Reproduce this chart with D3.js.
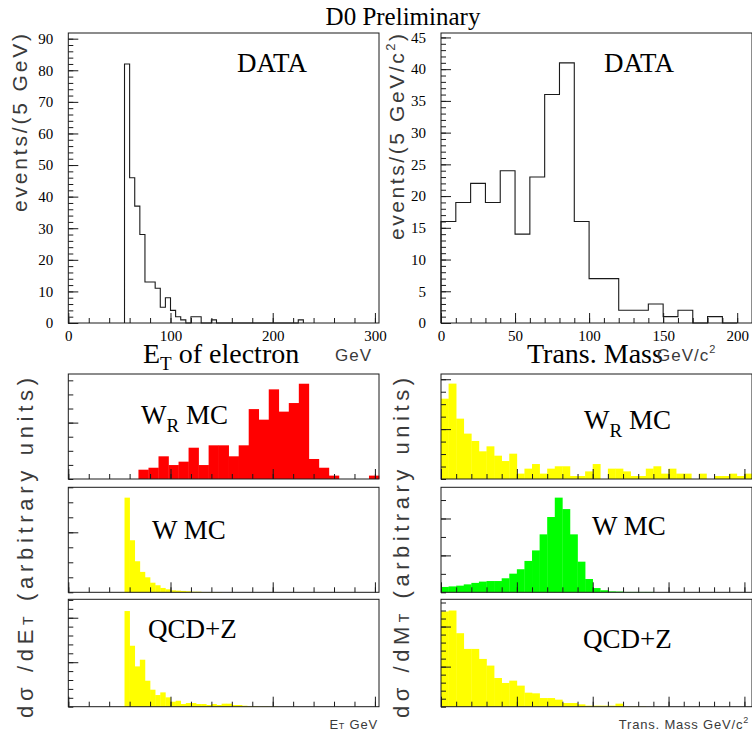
<!DOCTYPE html>
<html>
<head>
<meta charset="utf-8">
<script src="https://cdn.jsdelivr.net/npm/d3@7"></script>
<style>
  html, body { margin: 0; padding: 0; background: #fff; }
  svg { display: block; }
</style>
</head>
<body>
<svg id="chart" width="752" height="736"></svg>
<script>
// ---- Data -------------------------------------------------------------
// Electron E_T of the data sample, 5 GeV bins starting at 55 GeV
const etDataStart = 55, etDataWidth = 5;
const etData = [82, 46, 37, 28, 13, 13, 11, 5, 8, 4, 2, 1, 0, 2, 2, 0, 0, 1,
  0, 0, 0, 0, 0, 0, 0, 0, 0, 0, 0, 0, 0, 0, 0, 0, 1];

// Transverse mass of the data sample, 10 GeV/c^2 bins starting at 0
const mtDataStart = 0, mtDataWidth = 10;
const mtData = [16, 19, 22, 19, 24, 14, 23, 36, 41, 16, 7, 7, 2, 2, 3, 1, 2, 0, 1, 0];

// Monte Carlo shapes (arbitrary units)
const etAxisMax = 304;
const wrEtWidth = 304 / 31;          // W_R MC electron E_T bins
const wrEt = [0, 0, 0, 0, 0, 0, 0, 6.6, 8.0, 16.1, 9.9, 12.3, 22.2, 9.9, 23.9, 23.9,
  16.1, 23.9, 49.6, 42.1, 63.6, 47.8, 53.9, 67.6, 14.2, 8.0, 2.4, 0, 0, 0, 2.4];
const mcEtStart = 55, mcEtWidth = 5;
const wEt = [63.1, 34.7, 20.7, 13.6, 10, 6.4, 4.7, 2.9, 2, 1.3, 1.1, 0.9, 0.7, 0.4, 0.4,
  0.2, 0.2, 0.2, 0.2];
const qcdEt = [107.5, 68.5, 45.3, 52.8, 29.2, 19.1, 13.1, 16.1, 10.5, 5.6, 6.7, 3, 4.1,
  4.1, 3, 3, 1.9, 3, 1.9, 3.4, 3.4, 1.9, 1.9, 1.1, 0.6, 0.6, 0.4, 0.4, 0.3, 0.3];

const mtAxisMax = 205;
const mcMtStart = 0, mcMtWidth = 5;
const wrMt = [64.4, 76.5, 48.4, 36.4, 30.5, 22.2, 26.2, 18.7, 14.4, 20.3, 4.3, 8.3, 12,
  4.3, 8.3, 10.2, 10.2, 2.4, 2.4, 6.1, 12, 0, 8.3, 8.3, 6.1, 2.4, 2.4, 8.3, 10.2, 4.3,
  8.3, 4.3, 4.3, 0, 4.3, 0, 2.4, 2.4, 4.3, 2.4, 4.3];
const wMt = [2.9, 3.2, 3.6, 4.3, 5.1, 5.8, 6.1, 6.1, 7.6, 10.1, 12.5, 17, 22.7, 31.4,
  40.8, 51.3, 45.1, 31.4, 16.6, 7.2, 2.3, 1.1, 0.5, 0.4, 0.2, 0.2, 0.2, 0.2];
const qcdMt = [118.8, 120, 91.7, 72.1, 72.1, 59.6, 51.3, 35.8, 29.6, 32.5, 26.3, 17.5,
  16.7, 10.8, 10.8, 8.8, 4.6, 4.6, 2.9, 1.3, 1.3, 1.3, 1.3, 3.8, 0.4, 0.4, 0.4];

// Tick values
const etMajor = [0, 100, 200, 300];
const mtMajor = [0, 50, 100, 150, 200];

// ---- Layout -----------------------------------------------------------
const svg = d3.select("#chart");
svg.append("rect").attr("width", 752).attr("height", 736).attr("fill", "#fff");

const LEFT = [68.3, 379], RIGHT = [441, 752];
const TOP = [33, 323];
const ROWS = [[374, 479], [487.3, 592.3], [599.3, 706.7]];
const INK = "#1a1a1a";
const SANS_INK = "#3a3a3a";

function range(a, b, step) {
  const out = [];
  for (let v = a; v <= b + 1e-9; v += step) out.push(+v.toFixed(6));
  return out;
}

function frame(g, xr, yr) {
  g.append("rect")
    .attr("x", xr[0]).attr("y", yr[0])
    .attr("width", xr[1] - xr[0]).attr("height", yr[1] - yr[0])
    .attr("fill", "none").attr("stroke", INK).attr("stroke-width", 1);
}

function xTicks(g, x, yPix, major, minor, labels) {
  const minorAxis = d3.axisBottom(x).tickValues(minor).tickSize(-5).tickFormat("");
  const a = g.append("g").attr("transform", `translate(0,${yPix})`).call(minorAxis);
  a.select(".domain").remove();
  const majorAxis = d3.axisBottom(x).tickValues(major).tickSize(-10).tickPadding(7)
    .tickFormat(labels ? d3.format("d") : "");
  const b = g.append("g").attr("transform", `translate(0,${yPix})`).call(majorAxis);
  b.select(".domain").remove();
  g.selectAll(".tick line").attr("stroke", INK);
  b.selectAll("text").attr("font-size", 15)
    .attr("font-family", "Liberation Serif").attr("fill", "#000");
}

function yTicks(g, y, xPix, major, minor, labels) {
  const minorAxis = d3.axisLeft(y).tickValues(minor).tickSize(-5).tickFormat("");
  const a = g.append("g").attr("transform", `translate(${xPix},0)`).call(minorAxis);
  a.select(".domain").remove();
  const majorAxis = d3.axisLeft(y).tickValues(major).tickSize(-10).tickPadding(15)
    .tickFormat(labels ? d3.format("d") : "");
  const b = g.append("g").attr("transform", `translate(${xPix},0)`).call(majorAxis);
  b.select(".domain").remove();
  g.selectAll(".tick line").attr("stroke", INK);
  b.selectAll("text").attr("font-size", 15)
    .attr("font-family", "Liberation Serif").attr("fill", "#000");
}

// Outline histogram (data)
function stepHist(g, x, y, start, width, values) {
  const pts = [[start, 0]];
  values.forEach((v, i) => {
    pts.push([start + i * width, v]);
    pts.push([start + (i + 1) * width, v]);
  });
  pts.push([start + values.length * width, 0]);
  g.append("path")
    .attr("d", d3.line().x(d => x(d[0])).y(d => y(d[1]))(pts))
    .attr("fill", "none").attr("stroke", INK).attr("stroke-width", 1.1);
}

// Filled histogram (Monte Carlo)
function fillHist(g, x, y, start, width, values, color) {
  const bins = values.map((v, i) => ({ lo: start + i * width, hi: start + (i + 1) * width, v }))
    .filter(d => d.v > 0);
  g.selectAll(null).data(bins).enter().append("rect")
    .attr("x", d => x(d.lo))
    .attr("width", d => x(d.hi) - x(d.lo) + 0.3)
    .attr("y", d => y(d.v))
    .attr("height", d => y(0) - y(d.v))
    .attr("fill", color);
}

function serifText(txt, x, yb, size, anchor) {
  return svg.append("text").attr("x", x).attr("y", yb)
    .attr("font-family", "Liberation Serif").attr("font-size", size)
    .attr("text-anchor", anchor || "start").attr("fill", "#000").text(txt);
}

// ---- Title ------------------------------------------------------------
serifText("D0 Preliminary", 403, 25, 25, "middle");

// ---- Top left: electron E_T (data) ------------------------------------
{
  const g = svg.append("g");
  const x = d3.scaleLinear().domain([0, etAxisMax]).range(LEFT);
  const y = d3.scaleLinear().domain([0, 91.8]).range([TOP[1], TOP[0]]);
  stepHist(g, x, y, etDataStart, etDataWidth, etData);
  xTicks(g, x, TOP[1], etMajor, range(0, 300, 20), true);
  yTicks(g, y, LEFT[0], range(0, 90, 10), range(0, 90, 2), true);
  frame(g, LEFT, TOP);
  serifText("DATA", 272, 72, 27, "middle");
}

// ---- Top right: transverse mass (data) --------------------------------
{
  const g = svg.append("g");
  const x = d3.scaleLinear().domain([0, 210]).range(RIGHT);
  const y = d3.scaleLinear().domain([0, 45.7]).range([TOP[1], TOP[0]]);
  stepHist(g, x, y, mtDataStart, mtDataWidth, mtData);
  xTicks(g, x, TOP[1], mtMajor, range(0, 210, 10), true);
  yTicks(g, y, RIGHT[0], range(0, 45, 5), range(0, 45, 1), true);
  frame(g, RIGHT, TOP);
  serifText("DATA", 639, 72, 27, "middle");
}

// ---- Lower panels -----------------------------------------------------
const lowerLeft = [
  { vals: wrEt, start: 0, width: wrEtWidth, color: "#ff0000", ymax: 74.5, major: [40] },
  { vals: wEt, start: mcEtStart, width: mcEtWidth, color: "#ffff00", ymax: 70, major: [40] },
  { vals: qcdEt, start: mcEtStart, width: mcEtWidth, color: "#ffff00", ymax: 120.7, major: [50, 100] }
];
const lowerRight = [
  { vals: wrMt, start: mcMtStart, width: mcMtWidth, color: "#ffff00", ymax: 84.2, major: [40, 80] },
  { vals: wMt, start: mcMtStart, width: mcMtWidth, color: "#00ff00", ymax: 56.9, major: [20, 40] },
  { vals: qcdMt, start: mcMtStart, width: mcMtWidth, color: "#ffff00", ymax: 134, major: [50, 100] }
];

lowerLeft.forEach((p, i) => {
  const g = svg.append("g");
  const x = d3.scaleLinear().domain([0, etAxisMax]).range(LEFT);
  const y = d3.scaleLinear().domain([0, p.ymax]).range([ROWS[i][1], ROWS[i][0]]);
  fillHist(g, x, y, p.start, p.width, p.vals, p.color);
  xTicks(g, x, ROWS[i][1], etMajor, range(0, 300, 20), false);
  yTicks(g, y, LEFT[0], p.major, range(0, p.ymax, 10), false);
  frame(g, LEFT, ROWS[i]);
});

lowerRight.forEach((p, i) => {
  const g = svg.append("g");
  const x = d3.scaleLinear().domain([0, mtAxisMax]).range(RIGHT);
  const y = d3.scaleLinear().domain([0, p.ymax]).range([ROWS[i][1], ROWS[i][0]]);
  fillHist(g, x, y, p.start, p.width, p.vals, p.color);
  xTicks(g, x, ROWS[i][1], mtMajor, range(0, 200, 10), false);
  yTicks(g, y, RIGHT[0], p.major, range(0, p.ymax, 10), false);
  frame(g, RIGHT, ROWS[i]);
});

// Panel captions
function wrLabel(x, yb) {
  const t = serifText("W", x, yb, 27);
  t.append("tspan").attr("font-size", 19).attr("dy", 8).text("R");
  t.append("tspan").attr("dy", -8).text(" MC");
}
wrLabel(141, 424);
serifText("W MC", 152, 539, 27);
serifText("QCD+Z", 148, 638, 27);
wrLabel(584, 429);
serifText("W MC", 592, 535, 27);
serifText("QCD+Z", 583, 648, 27);

// ---- Axis titles ------------------------------------------------------
{
  const t = serifText("E", 143, 363, 28);
  t.append("tspan").attr("font-size", 19).attr("dy", 7).text("T");
  t.append("tspan").attr("dy", -7).text(" of electron");
  svg.append("text").attr("x", 335).attr("y", 361).attr("font-family", "Liberation Sans")
    .attr("font-size", 17).attr("fill", SANS_INK).attr("letter-spacing", 1).text("GeV");

  serifText("Trans. Mass", 527, 363, 28);
  const u = svg.append("text").attr("x", 657).attr("y", 361).attr("font-family", "Liberation Sans")
    .attr("font-size", 17).attr("fill", SANS_INK).attr("letter-spacing", 1).text("GeV/c");
  u.append("tspan").attr("font-size", 11).attr("dy", -8).text("2");
}

function yTitle(x, yEnd, len, size, build) {
  const t = svg.append("text")
    .attr("transform", `translate(${x},${yEnd}) rotate(-90)`)
    .attr("text-anchor", "end")
    .attr("font-family", "Liberation Sans").attr("font-size", size)
    .attr("fill", SANS_INK)
    .attr("textLength", len).attr("lengthAdjust", "spacing");
  build(t);
}
yTitle(27, 34, 178, 21, t => t.text("events/(5 GeV)"));
yTitle(404, 34, 206, 21, t => {
  t.append("tspan").text("events/(5 GeV/c");
  t.append("tspan").attr("font-size", 13).attr("dy", -9).text("2");
  t.append("tspan").attr("dy", 9).text(")");
});
yTitle(33, 378, 340, 22, t => {
  t.append("tspan").text("dσ /dE");
  t.append("tspan").attr("font-size", 14).text("T");
  t.append("tspan").text(" (arbitrary units)");
});
yTitle(409, 378, 340, 22, t => {
  t.append("tspan").text("dσ /dM");
  t.append("tspan").attr("font-size", 14).text("T");
  t.append("tspan").text(" (arbitrary units)");
});

// Lower x-axis captions
{
  const a = svg.append("text").attr("x", 378).attr("y", 729).attr("text-anchor", "end")
    .attr("font-family", "Liberation Sans").attr("font-size", 13).attr("fill", SANS_INK)
    .attr("letter-spacing", 0.8).text("E");
  a.append("tspan").attr("font-size", 9).text("T");
  a.append("tspan").text(" GeV");
  const b = svg.append("text").attr("x", 749).attr("y", 729).attr("text-anchor", "end")
    .attr("font-family", "Liberation Sans").attr("font-size", 13).attr("fill", SANS_INK)
    .attr("letter-spacing", 0.8).text("Trans. Mass GeV/c");
  b.append("tspan").attr("font-size", 9).attr("dy", -6).text("2");
}
</script>
</body>
</html>
